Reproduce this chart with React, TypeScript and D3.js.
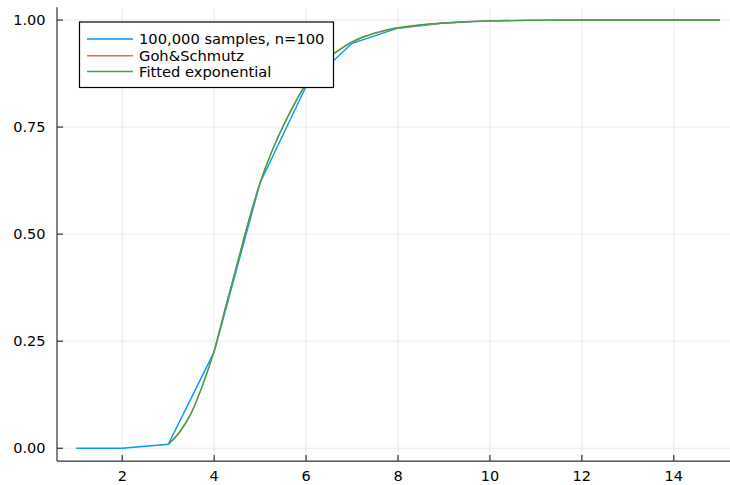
import React from "react";
import * as d3 from "d3";

const sampleX = [1, 2, 3, 4, 5, 6, 7, 8, 9, 10, 11, 12, 13, 14, 15];
const sampleY = [0, 0, 0.0093, 0.225, 0.62, 0.845, 0.9456, 0.981, 0.993, 0.998, 0.9995, 1.0, 1.0, 1.0, 1.0];

const fitX = [3, 3.25, 3.5, 3.75, 4, 4.25, 4.5, 4.75, 5, 5.25, 5.5, 5.75, 6, 6.25, 6.5, 6.75, 7, 7.25, 7.5, 7.75, 8, 8.5, 9, 9.5, 10, 11, 12, 13, 14, 15];
const gohY = [0.0093, 0.038, 0.082, 0.148, 0.228, 0.33, 0.43, 0.53, 0.62, 0.692, 0.752, 0.805, 0.85, 0.885, 0.912, 0.932, 0.948, 0.96, 0.969, 0.976, 0.981, 0.988, 0.993, 0.996, 0.998, 0.9993, 0.9998, 1.0, 1.0, 1.0];
const expY = [0.0093, 0.038, 0.082, 0.148, 0.228, 0.33, 0.43, 0.53, 0.62, 0.692, 0.752, 0.805, 0.852, 0.887, 0.913, 0.933, 0.949, 0.961, 0.97, 0.977, 0.982, 0.989, 0.993, 0.996, 0.998, 0.9993, 0.9998, 1.0, 1.0, 1.0];

const xTicks = [2, 4, 6, 8, 10, 12, 14];
const yTicks = [0, 0.25, 0.5, 0.75, 1.0];
const seriesNames = ["100,000 samples, n=100", "Goh&Schmutz", "Fitted exponential"];
const seriesColors = ["#009afa", "#e36f47", "#3ea44e"];

const W = 730, H = 485;
const font = "'DejaVu Sans', sans-serif";

export default function App() {
  const x = d3.scaleLinear().domain([0.58, 15.42]).range([57, 739]);
  const y = d3.scaleLinear().domain([-0.03, 1.03]).range([461.1, 7.2]);
  const line = d3.line<[number, number]>().x(d => x(d[0])).y(d => y(d[1]));
  const smooth = d3.line<[number, number]>().x(d => x(d[0])).y(d => y(d[1])).curve(d3.curveMonotoneX);
  const sData = sampleX.map((v, i) => [v, sampleY[i]] as [number, number]);
  const gData = fitX.map((v, i) => [v, gohY[i]] as [number, number]);
  const eData = fitX.map((v, i) => [v, expY[i]] as [number, number]);
  const [x0, x1] = [57, 730];
  const [yTop, yBot] = [y.range()[1], y.range()[0]];
  const legendRows = [39, 55.7, 71.5];
  return (
    <svg width={W} height={H} style={{ position: "absolute", left: 0, top: 0 }} fontFamily={font}>
      <rect x={0} y={0} width={W} height={H} fill="white" />
      {xTicks.map(t => (
        <line key={"gx" + t} x1={x(t)} x2={x(t)} y1={yTop} y2={yBot} stroke="#000" strokeOpacity={0.1} strokeWidth={0.8} />
      ))}
      {yTicks.map(t => (
        <line key={"gy" + t} x1={x0} x2={x1} y1={y(t)} y2={y(t)} stroke="#000" strokeOpacity={0.1} strokeWidth={0.8} />
      ))}
      <path d={line(sData) || ""} fill="none" stroke={seriesColors[0]} strokeWidth={1.4} />
      <path d={smooth(gData) || ""} fill="none" stroke={seriesColors[1]} strokeWidth={1.4} />
      <path d={smooth(eData) || ""} fill="none" stroke={seriesColors[2]} strokeWidth={1.4} />
      <line x1={x0} x2={x1} y1={yBot} y2={yBot} stroke="#333" strokeWidth={1.2} />
      <line x1={x0} x2={x0} y1={yTop} y2={yBot} stroke="#333" strokeWidth={1.2} />
      {xTicks.map(t => (
        <g key={"tx" + t}>
          <line x1={x(t)} x2={x(t)} y1={yBot} y2={yBot - 6} stroke="#333" strokeWidth={1.2} />
          <text x={x(t)} y={481} textAnchor="middle" fontSize={14.5} fill="#000">{t}</text>
        </g>
      ))}
      {yTicks.map(t => (
        <g key={"ty" + t}>
          <line x1={x0} x2={x0 + 6} y1={y(t)} y2={y(t)} stroke="#333" strokeWidth={1.2} />
          <text x={45.5} y={y(t)} dy="0.36em" textAnchor="end" fontSize={14.5} fill="#000">{d3.format(".2f")(t)}</text>
        </g>
      ))}
      <rect x={79.5} y={22} width={254} height={65.5} fill="white" stroke="#000" strokeWidth={1.2} />
      {seriesNames.map((n, i) => (
        <g key={n}>
          <line x1={87} x2={133} y1={legendRows[i]} y2={legendRows[i]} stroke={seriesColors[i]} strokeWidth={1.4} />
          <text x={139} y={legendRows[i]} dy="0.36em" fontSize={14.7} fill="#000">{n}</text>
        </g>
      ))}
    </svg>
  );
}
